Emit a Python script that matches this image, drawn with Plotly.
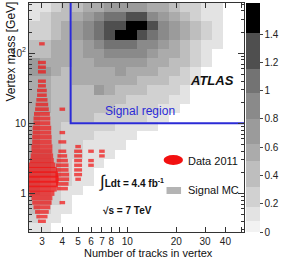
import numpy as np
import plotly.graph_objects as go

# ---------------- data ----------------
# Signal MC density, read as shade levels (rows top -> bottom, 20 log-spaced ntrk bins)
X_EDGE_LO, X_EDGE_HI, NX = 2.5, 52.0, 20
Y_EDGE_LO, Y_EDGE_HI, NY = 0.28, 520.0, 25
mc_rows = [
    "11233445555443221100",
    "12334567788654321100",
    "22345678899865432100",
    "22345678998765432100",
    "33444567776654321100",
    "33444556666544321000",
    "54444455555443321000",
    "55434444544433210000",
    "44334444443332210000",
    "44333354333222100000",
    "44333333322221100000",
    "44333333222211000000",
    "43333322222110000000",
    "43322222111100000000",
    "43322211110000000000",
    "43322111100000000000",
    "44322111000000000000",
    "44321110000000000000",
    "44321100000000000000",
    "43221100000000000000",
    "43211000000000000000",
    "33210000000000000000",
    "32110000000000000000",
    "21100000000000000000",
    "11000000000000000000",
]
level_values = [np.nan, 0.12, 0.25, 0.42, 0.56, 0.7, 0.9, 1.05, 1.25, 1.5]

# Data 2011: mass bins (log10 centres) and counts per number of tracks
mass_log_lo, mass_log_step = -0.4, 1 / 15
data_ntrk = [3, 4, 5, 6, 7]
data_counts = {
    3: {0: 2, 1: 4, 2: 6, 3: 9, 4: 12, 5: 14, 6: 20, 7: 28, 8: 33, 9: 36, 10: 33,
        11: 28, 12: 23, 13: 18, 14: 16, 15: 14, 16: 14, 17: 12, 18: 12, 19: 11,
        20: 11, 21: 9, 22: 9, 23: 8, 24: 6, 25: 5, 26: 4, 27: 3, 28: 3, 29: 2,
        30: 2, 32: 2, 33: 2, 34: 2, 38: 1},
    4: {4: 1, 7: 4, 8: 5, 9: 6, 10: 6, 11: 5, 12: 5, 13: 4, 14: 3, 15: 2, 17: 2,
        19: 1, 24: 1},
    5: {9: 1, 10: 2, 11: 2, 12: 2, 13: 2, 14: 2, 15: 2, 16: 1},
    6: {12: 1, 13: 1, 15: 1},
    7: {14: 1, 15: 1},
}

# signal region cuts
sr_ntrk_min, sr_mass_min = 4.5, 10.0

x_tickvals = [3, 4, 5, 6, 7, 8, 9, 10, 20, 30, 40, 50]
x_ticktext = ["3", "4", "5", "6", "7", "8", "", "10", "20", "30", "40", ""]
y_tickvals = [1, 10, 100]
y_ticktext = ["1", "10", "10<sup>2</sup>"]
cb_tickvals = [0, 0.2, 0.4, 0.6, 0.8, 1.0, 1.2, 1.4]
cb_ticktext = ["0", "0.2", "0.4", "0.6", "0.8", "1", "1.2", "1.4"]

# ---------------- build ----------------
x_edges = np.logspace(np.log10(X_EDGE_LO), np.log10(X_EDGE_HI), NX + 1)
y_edges = np.logspace(np.log10(Y_EDGE_LO), np.log10(Y_EDGE_HI), NY + 1)
z = np.array([[level_values[int(c)] for c in row] for row in mc_rows[::-1]])

ZMAX = 1.62
bands = [(0.0, "#f2f2f2"), (0.08, "#e3e3e3"), (0.18, "#d1d1d1"), (0.32, "#bebebe"),
         (0.5, "#ababab"), (0.62, "#9b9b9b"), (0.8, "#8a8a8a"), (0.98, "#737373"),
         (1.15, "#4f4f4f"), (1.41, "#000000")]
colorscale = []
for i, (v, c) in enumerate(bands):
    v1 = bands[i + 1][0] if i + 1 < len(bands) else ZMAX
    colorscale.append([v / ZMAX, c])
    colorscale.append([v1 / ZMAX, c])

FONT = "Liberation Sans, Arial, Helvetica, sans-serif"
fig = go.Figure()
fig.add_trace(go.Heatmap(
    x=x_edges, y=y_edges, z=z, zmin=0, zmax=ZMAX, colorscale=colorscale,
    hoverinfo="skip", showscale=True,
    colorbar=dict(x=1.009, xanchor="left", xpad=0, y=0.5, yanchor="middle", ypad=0,
                  len=1, lenmode="fraction", thickness=14, outlinewidth=0,
                  tickvals=cb_tickvals, ticktext=cb_ticktext, ticks="outside",
                  ticklen=3, tickcolor="#444", tickfont=dict(size=10, color="#222", family=FONT)),
))

# data markers: box length grows with sqrt(count)
xs, ys, sizes, widths = [], [], [], []
for nt in data_ntrk:
    for k, n in data_counts[nt].items():
        xs.append(nt)
        ys.append(10 ** (mass_log_lo + k * mass_log_step))
        sizes.append(4.0 * np.sqrt(n))
        widths.append(3.2 + 0.1 * n)
fig.add_trace(go.Scatter(
    x=xs, y=ys, mode="markers", hoverinfo="skip", showlegend=False,
    marker=dict(symbol="line-ew", size=sizes, color="#f21010",
                line=dict(color="#f21010", width=widths)),
))

# signal region boundary
fig.add_trace(go.Scatter(
    x=[X_EDGE_HI, sr_ntrk_min, sr_ntrk_min], y=[sr_mass_min, sr_mass_min, Y_EDGE_HI],
    mode="lines", line=dict(color="#2b2bd6", width=2), hoverinfo="skip", showlegend=False,
))

def minor_vals(lo, hi):
    out = []
    for d in range(-2, 4):
        for m in range(2, 10):
            v = m * 10 ** d
            if lo <= v <= hi:
                out.append(v)
    return out

fig.update_xaxes(type="log", range=[np.log10(X_EDGE_LO), np.log10(X_EDGE_HI)],
                 tickvals=x_tickvals, ticktext=x_ticktext, ticks="inside", ticklen=5,
                 tickangle=0,
                 tickcolor="#333", showline=True, linecolor="#333", linewidth=1, mirror="ticks",
                 showgrid=False, zeroline=False,
                 tickfont=dict(size=10, color="#222", family=FONT))
fig.update_yaxes(type="log", range=[np.log10(Y_EDGE_LO), np.log10(Y_EDGE_HI)],
                 tickvals=y_tickvals, ticktext=y_ticktext, ticks="inside", ticklen=6,
                 tickcolor="#333", showline=True, linecolor="#333", linewidth=1, mirror="ticks",
                 showgrid=False, zeroline=False,
                 minor=dict(tickvals=minor_vals(Y_EDGE_LO, Y_EDGE_HI), ticks="inside",
                            ticklen=3, tickcolor="#333", showgrid=False),
                 tickfont=dict(size=10, color="#222", family=FONT))

L, R, T, B = 29, 31, 3, 27
W, H = 282, 259
PW, PH = W - L - R, H - T - B

def px(x):
    return (x - L) / PW

def py(y):
    return (H - B - y) / PH

ann = [
    dict(text="<b><i>ATLAS</i></b>", x=px(218), y=py(80), size=13, color="#111",
         xanchor="center"),
    dict(text="Signal region", x=px(144), y=py(111), size=12, color="#2b2bd6",
         xanchor="center"),
    dict(text="<span style='font-size:17px'>∫</span><b>Ldt = 4.4 fb<sup>-1</sup></b>",
         x=px(99), y=py(182), size=10, color="#111", xanchor="left"),
    dict(text="<b>√s = 7 TeV</b>", x=px(103), y=py(210), size=10, color="#111",
         xanchor="left"),
    dict(text="Data 2011", x=px(191), y=py(161), size=11, color="#111", xanchor="left"),
    dict(text="Signal MC", x=px(191), y=py(190), size=11, color="#111", xanchor="left"),
    dict(text="Number of tracks in vertex", x=px(152), y=py(253), size=11, color="#111",
         xanchor="center"),
]
for a in ann:
    fig.add_annotation(text=a["text"], x=a["x"], y=a["y"], xref="paper", yref="paper",
                       xanchor=a["xanchor"], yanchor="middle", showarrow=False,
                       font=dict(size=a["size"], color=a["color"], family=FONT))
fig.add_annotation(text="Vertex mass [GeV]", x=px(10), y=py(0), xref="paper", yref="paper",
                   xanchor="center", yanchor="top", textangle=-90, showarrow=False,
                   font=dict(size=12, color="#111", family=FONT))

fig.add_shape(type="circle", xref="paper", yref="paper", x0=px(168), x1=px(188),
              y0=py(165), y1=py(155), fillcolor="#f21010", line=dict(width=0))
fig.add_shape(type="rect", xref="paper", yref="paper", x0=px(171), x1=px(186),
              y0=py(194), y1=py(187), fillcolor="#b4b4b4", line=dict(width=0))

fig.update_layout(width=W, height=H, margin=dict(l=L, r=R, t=T, b=B),
                  paper_bgcolor="white", plot_bgcolor="white", showlegend=False,
                  font=dict(family=FONT))
fig.write_html("out.html")
